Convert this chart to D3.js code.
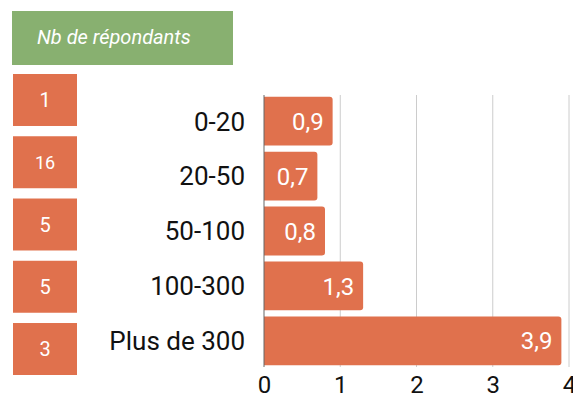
<!DOCTYPE html>
<html>
<head>
  <script src="https://d3js.org/d3.v7.min.js"></script>
  <style>
    body { margin: 0; background: #fff; font-family: Roboto, sans-serif; }
  </style>
</head>
<body>
  <div id="chart"></div>
  <script>
    // data
    const categories = ["0-20", "20-50", "50-100", "100-300", "Plus de 300"];
    const values = [0.9, 0.7, 0.8, 1.3, 3.9];
    const respondents = [1, 16, 5, 5, 3];
    const xTicks = [0, 1, 2, 3, 4];
    const headerLabel = "Nb de répondants";

    const W = 573, H = 400;
    const orange = "#e0714d", green = "#88b070";

    const svg = d3.select("#chart").append("svg")
      .attr("width", W).attr("height", H);

    const x = d3.scaleLinear().domain([0, 4]).range([264, 569]);
    const y = d3.scaleBand().domain(categories).range([94, 368]).paddingInner(0.11).paddingOuter(0.05);

    // gridlines
    svg.append("g").selectAll("line")
      .data(xTicks.slice(1))
      .enter().append("line")
      .attr("x1", d => x(d)).attr("x2", d => x(d))
      .attr("y1", 95).attr("y2", 367)
      .attr("stroke", "#cccccc").attr("stroke-width", 1);

    // bars, rounded at the right end
    svg.append("g").selectAll("path")
      .data(values)
      .enter().append("path")
      .attr("fill", orange)
      .attr("d", (d, i) => {
        const x0 = x(0), x1 = x(d), y0 = y(categories[i]), h = y.bandwidth(), r = 3;
        return `M${x0},${y0}H${x1 - r}Q${x1},${y0} ${x1},${y0 + r}V${y0 + h - r}Q${x1},${y0 + h} ${x1 - r},${y0 + h}H${x0}Z`;
      });

    // baseline
    svg.append("line")
      .attr("x1", x(0)).attr("x2", x(0))
      .attr("y1", 95).attr("y2", 367)
      .attr("stroke", "#666").attr("stroke-width", 1);

    // value labels
    svg.append("g").selectAll("text")
      .data(values)
      .enter().append("text")
      .attr("x", d => x(d) - 9)
      .attr("y", (d, i) => y(categories[i]) + y.bandwidth() / 2)
      .attr("dy", "0.36em")
      .attr("text-anchor", "end")
      .attr("fill", "#fff")
      .style("font-size", "24px")
      .text(d => d.toFixed(1).replace(".", ","));

    // category labels
    svg.append("g").selectAll("text")
      .data(categories)
      .enter().append("text")
      .attr("x", 245)
      .attr("y", d => y(d) + y.bandwidth() / 2)
      .attr("dy", "0.36em")
      .attr("text-anchor", "end")
      .attr("fill", "#111")
      .style("font-size", "26px")
      .text(d => d);

    // x axis
    const xAxis = svg.append("g")
      .attr("transform", "translate(0,368)")
      .call(d3.axisBottom(x).tickValues(xTicks).tickSize(0).tickPadding(8).tickFormat(d3.format("d")));
    xAxis.select(".domain").remove();
    xAxis.selectAll("text")
      .style("font-family", "Roboto, sans-serif")
      .style("font-size", "24px")
      .attr("fill", "#111");

    // header box
    svg.append("rect")
      .attr("x", 12).attr("y", 11).attr("width", 221).attr("height", 54)
      .attr("fill", green);
    svg.append("text")
      .attr("x", 37).attr("y", 37).attr("dy", "0.36em")
      .attr("fill", "#fff")
      .style("font-size", "20px").style("font-style", "italic")
      .text(headerLabel);

    // respondent boxes
    const yb = d3.scaleBand().domain(categories).range([74, 375]).paddingInner(0.165);
    const boxes = svg.append("g").selectAll("g")
      .data(respondents)
      .enter().append("g")
      .attr("transform", (d, i) => `translate(13,${yb(categories[i])})`);
    boxes.append("rect")
      .attr("x", 0).attr("y", 0).attr("width", 64).attr("height", yb.bandwidth())
      .attr("fill", orange);
    boxes.append("text")
      .attr("x", 32).attr("y", yb.bandwidth() / 2).attr("dy", "0.36em")
      .attr("text-anchor", "middle")
      .attr("fill", "#fff")
      .style("font-size", d => d > 9 ? "18px" : "20px")
      .text(d => d);
  </script>
</body>
</html>
